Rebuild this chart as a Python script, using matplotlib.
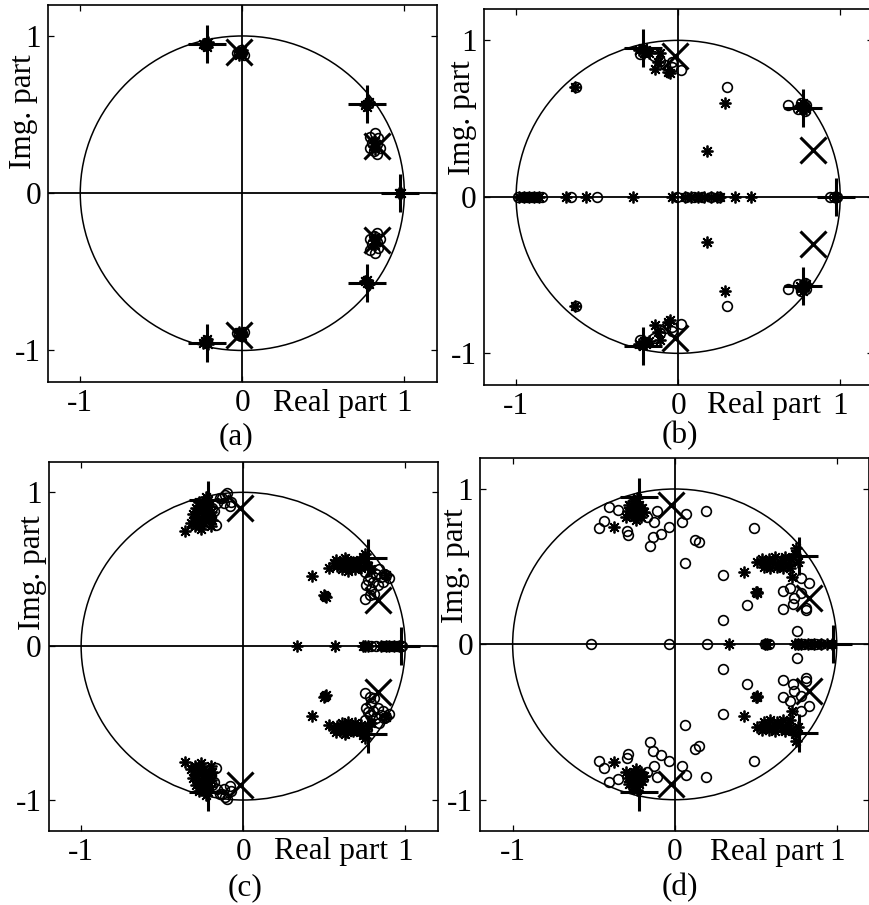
"""
Pole/zero estimates in the complex plane, four panels (a)-(d).

Open circles are estimated zeros, asterisks are estimated poles,
big '+' marks the true poles and big 'x' the true zeros.
Only the upper half-plane roots are listed; the lower half is the
complex conjugate (real-coefficient models).
"""

import numpy as np
import matplotlib.pyplot as plt
from matplotlib.patches import Circle

plt.rcParams["font.family"] = ["Liberation Serif", "DejaVu Serif"]
plt.rcParams["axes.unicode_minus"] = False

# ---------------------------------------------------------------------------
# Data
# ---------------------------------------------------------------------------
true_poles = [-0.22 + 0.95j, 0.77 + 0.57j, 0.975 + 0.0j]
true_zeros = [-0.02 + 0.90j, 0.83 + 0.30j]

# (a)
zeros_a = [-0.02 + 0.90j, 0.00 + 0.89j, -0.01 + 0.91j, 0.01 + 0.88j, -0.03 + 0.89j,
           0.79 + 0.36j, 0.82 + 0.38j, 0.84 + 0.35j, 0.80 + 0.32j, 0.83 + 0.31j,
           0.81 + 0.27j, 0.83 + 0.25j, 0.79 + 0.29j, 0.85 + 0.29j, -0.22 + 0.94j]
poles_a = [-0.22 + 0.95j, -0.23 + 0.94j, -0.21 + 0.96j, -0.22 + 0.93j, -0.24 + 0.95j,
           -0.01 + 0.90j, 0.00 + 0.91j, -0.02 + 0.88j, 0.77 + 0.57j, 0.78 + 0.58j,
           0.76 + 0.56j, 0.77 + 0.55j, 0.81 + 0.30j, 0.82 + 0.33j, 0.82 + 0.28j,
           0.97, 0.975, 0.98]

# (b)
zeros_b = [-0.235 + 0.915j, -0.20 + 0.93j, -0.15 + 0.90j, -0.11 + 0.87j, -0.04 + 0.86j,
           -0.04 + 0.83j, 0.02 + 0.81j, -0.08 + 0.84j, -0.63 + 0.70j, 0.30 + 0.70j,
           0.676 + 0.588j, 0.74 + 0.56j, 0.78 + 0.55j, 0.79 + 0.59j, 0.76 + 0.60j,
           -0.99, -0.96, -0.93, -0.90, -0.87, -0.84, -0.66, -0.50, -0.01,
           0.05, 0.10, 0.15, 0.20, 0.25, 0.94, 0.96, 0.98]
poles_b = [-0.22 + 0.95j, -0.20 + 0.94j, -0.18 + 0.92j, -0.24 + 0.94j, -0.21 + 0.92j,
           -0.14 + 0.82j, -0.127 + 0.863j, -0.06 + 0.80j, -0.05 + 0.79j, -0.11 + 0.917j,
           -0.635 + 0.70j, 0.287 + 0.60j, 0.18 + 0.29j, 0.76 + 0.58j, 0.78 + 0.57j,
           0.77 + 0.60j, 0.79 + 0.56j, 0.75 + 0.57j,
           -0.98, -0.95, -0.92, -0.89, -0.86, -0.69, -0.57, -0.277, -0.04,
           0.04, 0.08, 0.12, 0.16, 0.20, 0.24, 0.26, 0.35, 0.45, 0.97]

# (c)
zeros_c = [-0.10 + 0.996j, -0.076 + 0.94j, -0.168 + 0.79j, -0.13 + 0.96j, -0.16 + 0.93j,
           -0.19 + 0.90j, -0.22 + 0.92j, -0.25 + 0.86j, -0.20 + 0.84j, -0.14 + 0.96j,
           -0.12 + 0.93j, -0.18 + 0.88j, -0.08 + 0.91j, -0.11 + 0.98j,
           0.75 + 0.48j, 0.78 + 0.45j, 0.80 + 0.42j, 0.82 + 0.47j, 0.85 + 0.45j,
           0.88 + 0.46j, 0.90 + 0.44j, 0.76 + 0.40j, 0.79 + 0.37j, 0.81 + 0.34j,
           0.754 + 0.305j, 0.83 + 0.40j, 0.86 + 0.42j, 0.87 + 0.47j, 0.77 + 0.43j,
           0.84 + 0.50j, 0.78 + 0.33j,
           0.79, 0.82, 0.86, 0.89, 0.92, 0.95, 0.98]
poles_c = [-0.32 + 0.80j, -0.30 + 0.84j, -0.28 + 0.88j, -0.26 + 0.90j, -0.24 + 0.92j,
           -0.22 + 0.95j, -0.30 + 0.78j, -0.27 + 0.82j, -0.25 + 0.86j, -0.23 + 0.88j,
           -0.21 + 0.91j, -0.29 + 0.90j, -0.27 + 0.94j, -0.24 + 0.80j, -0.22 + 0.84j,
           -0.20 + 0.87j, -0.26 + 0.76j, -0.31 + 0.86j, -0.23 + 0.97j, -0.20 + 0.78j,
           -0.362 + 0.75j, -0.19 + 0.82j,
           0.53 + 0.51j, 0.56 + 0.54j, 0.58 + 0.52j, 0.60 + 0.55j, 0.62 + 0.53j,
           0.64 + 0.56j, 0.66 + 0.52j, 0.68 + 0.55j, 0.70 + 0.53j, 0.72 + 0.56j,
           0.74 + 0.58j, 0.76 + 0.55j, 0.77 + 0.52j, 0.57 + 0.56j, 0.61 + 0.50j,
           0.65 + 0.49j, 0.69 + 0.50j, 0.73 + 0.51j, 0.75 + 0.60j, 0.63 + 0.57j,
           0.426 + 0.456j, 0.508 + 0.326j, 0.50 + 0.33j, 0.51 + 0.32j, 0.79 + 0.50j,
           0.88 + 0.46j,
           0.334, 0.569, 0.74, 0.754, 0.77, 0.85, 0.88, 0.90, 0.93, 0.96]

# (d)
zeros_d = [-0.404 + 0.886j, -0.35 + 0.865j, -0.434 + 0.796j, -0.465 + 0.749j,
           -0.297 + 0.732j, -0.289 + 0.706j, -0.172 + 0.822j, -0.111 + 0.856j,
           -0.127 + 0.785j, -0.131 + 0.689j, -0.087 + 0.71j, -0.034 + 0.753j,
           -0.152 + 0.631j, 0.047 + 0.785j, 0.071 + 0.839j, 0.192 + 0.856j,
           0.124 + 0.672j, 0.148 + 0.657j, 0.061 + 0.522j, 0.297 + 0.447j,
           0.49 + 0.749j, 0.445 + 0.255j, 0.297 + 0.16j, 0.667 + 0.342j,
           0.714 + 0.364j, 0.779 + 0.428j, 0.829 + 0.394j, 0.738 + 0.30j,
           0.728 + 0.257j, 0.667 + 0.229j, 0.81 + 0.235j, 0.81 + 0.218j,
           0.779 + 0.33j, 0.755 + 0.088j,
           -0.516, -0.034, 0.20, 0.56, 0.58, 0.76, 0.80, 0.84, 0.87, 0.90]
poles_d = [-0.28 + 0.90j, -0.26 + 0.88j, -0.24 + 0.86j, -0.22 + 0.90j, -0.27 + 0.84j,
           -0.25 + 0.82j, -0.23 + 0.84j, -0.20 + 0.88j, -0.29 + 0.86j, -0.21 + 0.82j,
           -0.26 + 0.92j, -0.23 + 0.94j, -0.19 + 0.85j, -0.30 + 0.82j, -0.24 + 0.80j,
           -0.374 + 0.757j,
           0.51 + 0.53j, 0.54 + 0.55j, 0.56 + 0.52j, 0.58 + 0.55j, 0.60 + 0.53j,
           0.62 + 0.56j, 0.64 + 0.51j, 0.66 + 0.54j, 0.68 + 0.56j, 0.70 + 0.52j,
           0.72 + 0.55j, 0.74 + 0.58j, 0.76 + 0.53j, 0.55 + 0.50j, 0.59 + 0.49j,
           0.63 + 0.50j, 0.67 + 0.49j, 0.71 + 0.49j, 0.75 + 0.62j, 0.425 + 0.464j,
           0.506 + 0.336j, 0.50 + 0.34j, 0.51 + 0.33j, 0.722 + 0.432j,
           0.334, 0.56, 0.57, 0.74, 0.76, 0.78, 0.82, 0.86, 0.90, 0.94, 0.97]

panel_labels = ["(a)", "(b)", "(c)", "(d)"]
panel_zeros = [zeros_a, zeros_b, zeros_c, zeros_d]
panel_poles = [poles_a, poles_b, poles_c, poles_d]

# ---------------------------------------------------------------------------
# Layout (figure fractions) and text offsets, tuned to the reference
# ---------------------------------------------------------------------------
AX_RECTS = [[0.055, 0.578, 0.447, 0.417],
            [0.556, 0.575, 0.447, 0.415],
            [0.056, 0.082, 0.447, 0.408],
            [0.552, 0.082, 0.447, 0.412]]
YLABEL_POS = [(-0.062, 0.716), (-0.054, 0.711), (-0.041, 0.70), (-0.064, 0.71)]
XLABEL_X = [0.725, 0.722, 0.725, 0.738]
CAPTION_POS = [(0.271, 0.517), (0.782, 0.519), (0.282, 0.019), (0.782, 0.019)]

FS = 22.5
ASTERISK = (8, 2, 0)


def with_conjugates(roots):
    """Return the roots plus the conjugates of those off the real axis."""
    z = np.asarray(roots, dtype=complex)
    return np.concatenate([z, np.conj(z[z.imag != 0])])


def draw_panel(ax, zeros, poles):
    ax.add_patch(Circle((0, 0), 1.0, fill=False, color="k", lw=1.1))
    ax.axhline(0, color="k", lw=1.3)
    ax.axvline(0, color="k", lw=1.3)

    z = with_conjugates(zeros)
    p = with_conjugates(poles)
    ax.plot(z.real, z.imag, "o", mfc="none", mec="k", ms=7, mew=1.2)
    ax.plot(p.real, p.imag, ls="none", marker=ASTERISK, color="k", ms=8.5, mew=1.3)

    tp = with_conjugates(true_poles)
    tz = with_conjugates(true_zeros)
    ax.plot(tp.real, tp.imag, "+", color="k", ms=27, mew=2.2)
    ax.plot(tz.real, tz.imag, "x", color="k", ms=19, mew=2.2)

    ax.set_xlim(-1.2, 1.2)
    ax.set_ylim(-1.2, 1.2)
    ax.set_xticks([-1, 0, 1])
    ax.set_yticks([-1, 0, 1])
    ax.set_xticklabels(["-1", "0", "1"])
    ax.set_yticklabels(["-1", "0", "1"])
    ax.tick_params(direction="in", length=4, width=0.9, top=True, right=True,
                   labelsize=FS, pad=5)
    for s in ax.spines.values():
        s.set_linewidth(1.2)


def main():
    fig = plt.figure(figsize=(8.7, 9.05), dpi=100)
    for i in range(4):
        ax = fig.add_axes(AX_RECTS[i])
        draw_panel(ax, panel_zeros[i], panel_poles[i])
        ax.text(XLABEL_X[i], -0.018, "Real part", transform=ax.transAxes,
                ha="center", va="top", fontsize=FS)
        ax.text(*YLABEL_POS[i], "Img. part", transform=ax.transAxes,
                rotation=90, ha="center", va="center", fontsize=FS)
        fig.text(*CAPTION_POS[i], panel_labels[i], ha="center", va="center",
                 fontsize=FS)
    fig.savefig("out.png", dpi=100)


if __name__ == "__main__":
    main()
